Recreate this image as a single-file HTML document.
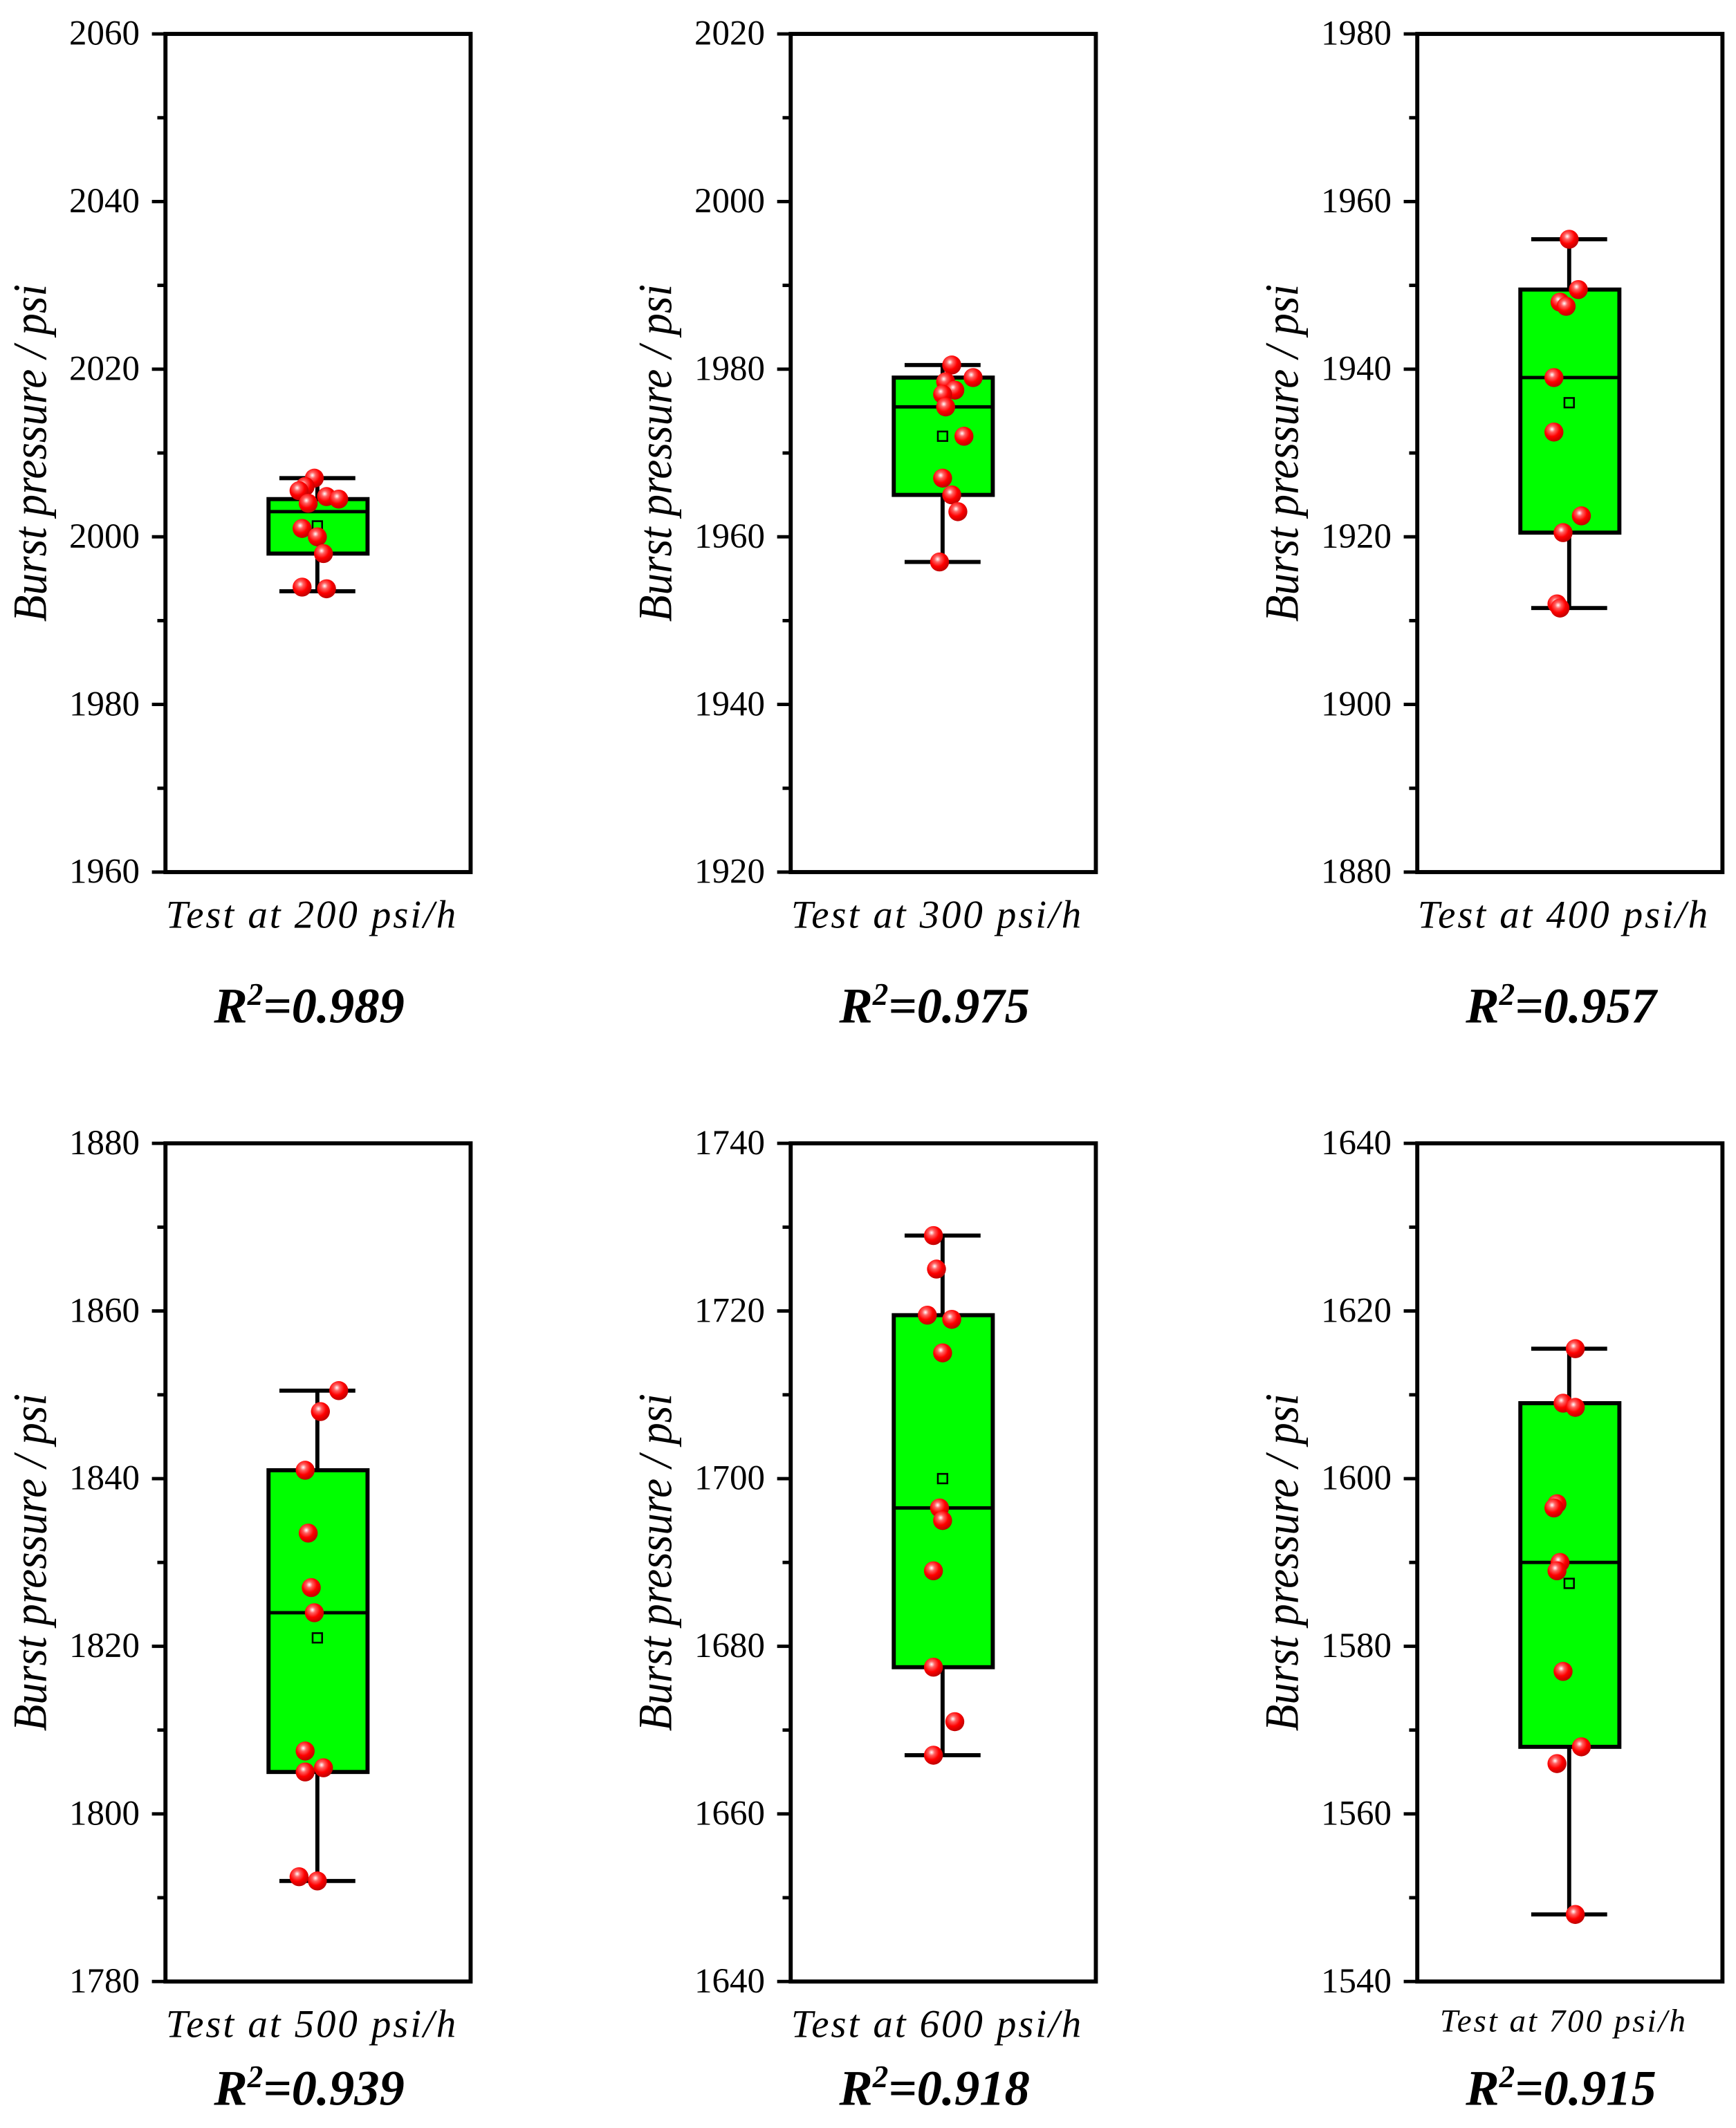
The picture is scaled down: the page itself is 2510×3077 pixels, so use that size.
<!DOCTYPE html>
<html><head><meta charset="utf-8"><style>
html,body{margin:0;padding:0;background:#fff;}
svg{display:block;}
text{font-family:"Liberation Serif",serif;fill:#000;}
</style></head><body>
<svg id="chart" width="2510" height="3077" viewBox="0 0 1280 1569" preserveAspectRatio="none" xmlns="http://www.w3.org/2000/svg">
<defs>
<radialGradient id="ball" cx="0.4" cy="0.35" r="0.65">
<stop offset="0" stop-color="#ffffff"/><stop offset="0.25" stop-color="#ff6060"/><stop offset="0.6" stop-color="#ff0000"/><stop offset="1" stop-color="#c00000"/>
</radialGradient>
</defs>
</svg>
<script>
const rates = ["200","300","400","500","600","700"];
const r2Values = ["0.989","0.975","0.957","0.939","0.918","0.915"];
const yMins = [1960,1920,1880,1780,1640,1540];
const yMaxs = [2060,2020,1980,1880,1740,1640];
const whiskerLow = [1993.5,1957,1911.5,1792,1667,1548];
const whiskerHigh = [2007,1980.5,1955.5,1850.5,1729,1615.5];
const q1 = [1998,1965,1920.5,1805,1677.5,1568];
const q3 = [2004.5,1979,1949.5,1841,1719.5,1609];
const medians = [2003,1975.5,1939,1824,1696.5,1590];
const means = [2001.3,1972,1936,1821,1700,1587.5];
const points = [
 [2007,2006,2005.5,2004.8,2004.5,2004,2001,2000,1998,1994,1993.8],
 [1980.5,1979,1978.5,1977.5,1977,1975.5,1972,1967,1965,1963,1957],
 [1955.5,1949.5,1948,1947.5,1939,1932.5,1922.5,1920.5,1912,1911.5],
 [1850.5,1848,1841,1833.5,1827,1824,1807.5,1805.5,1805,1792.5,1792],
 [1729,1725,1719.5,1719,1715,1696.5,1695,1689,1677.5,1671,1667],
 [1615.5,1609,1608.5,1597,1596.5,1590,1589,1577,1568,1566,1548]
];
const jitter = [
 [-0.01,-0.04,-0.06,0.03,0.07,-0.03,-0.05,0,0.02,-0.05,0.03],
 [0.03,0.1,0.01,0.04,0.0,0.01,0.07,0.0,0.03,0.05,-0.01],
 [0.0,0.03,-0.03,-0.01,-0.05,-0.05,0.04,-0.02,-0.04,-0.03],
 [0.07,0.01,-0.04,-0.03,-0.02,-0.01,-0.04,0.02,-0.04,-0.06,0],
 [-0.03,-0.02,-0.05,0.03,0.0,-0.01,0.0,-0.03,-0.03,0.04,-0.03],
 [0.02,-0.02,0.02,-0.04,-0.05,-0.03,-0.04,-0.02,0.04,-0.04,0.02]
];
const yTicks = [0,20,40,60,80,100];

const svg = document.getElementById('chart');
const NS = 'http://www.w3.org/2000/svg';
function mk(tag, attrs, parent){
  const e = document.createElementNS(NS, tag);
  for (const k in attrs) e.setAttribute(k, attrs[k]);
  (parent||svg).appendChild(e);
  return e;
}
const colX = [122,583,1045];
const rowY = [25,843];
const W = 225, H = 618;

for (let p=0;p<6;p++){
  const px = colX[p%3], py = rowY[Math.floor(p/3)];
  const g = mk('g',{});
  
  
  const y = v => py + H - (v - yMins[p])/(yMaxs[p]-yMins[p])*H;
  const cx = px + 112;
  const xj = f => cx + f*225;
  for (let k=0;k<=10;k++){
    const v = yMins[p] + k*(yMaxs[p]-yMins[p])/10;
    const major = k%2===0;
    const t = mk('line',{x1:px-(major?10:6),x2:px,y1:y(v),y2:y(v),stroke:'#000','stroke-width':2.5},g);
    
    
  }
  yTicks.forEach(d=>{
    const v = yMins[p]+d;
    const t = mk('text',{x:px-19,y:y(v)+8,'text-anchor':'end','font-size':26},g);
    t.textContent = v;
    
    
  });
  const wl = mk('line',{x1:cx,x2:cx,y1:y(whiskerLow[p]),y2:y(whiskerHigh[p]),stroke:'#000','stroke-width':3},g);
  
  
  [whiskerLow[p],whiskerHigh[p]].forEach(v=>{
    const c = mk('line',{x1:cx-28,x2:cx+28,y1:y(v),y2:y(v),stroke:'#000','stroke-width':3},g);
    
    
  });
  const box = mk('rect',{x:cx-36,y:y(q3[p]),width:73,height:y(q1[p])-y(q3[p]),fill:'#00ff00',stroke:'#000','stroke-width':3},g);
  
  
  const med = mk('line',{x1:cx-36,x2:cx+37,y1:y(medians[p]),y2:y(medians[p]),stroke:'#000','stroke-width':2.5},g);
  
  
  const mn = mk('rect',{x:cx-3.5,y:y(means[p])-3.5,width:7,height:7,fill:'none',stroke:'#000','stroke-width':1.3},g);
  
  
  points[p].forEach((v,i)=>{
    const c = mk('circle',{cx:xj(jitter[p][i]),cy:y(v),r:7,fill:'url(#ball)'},g);
    
    
  });
  const fr = mk('rect',{x:px,y:py,width:W,height:H,fill:'none',stroke:'#000','stroke-width':3},g);
  
  
  const yt = mk('text',{x:0,y:0,'text-anchor':'middle','font-size':35,'font-style':'italic',transform:`translate(${px-88},${py+309}) rotate(-90) scale(0.92,1)`},g);
  yt.textContent = 'Burst pressure / psi';
  
  
  const small = p===5;
  const xl = mk('text',{x:px+108,y:py+H+(small?37:41),'text-anchor':'middle','font-size':small?24:29,'font-style':'italic','letter-spacing':small?1.5:1.5},g);
  xl.textContent = 'Test at '+rates[p]+' psi/h';
  
  
  const ry = p<3 ? py+H+111 : py+H+91;
  const rt = mk('text',{x:px+106,y:ry,'text-anchor':'middle','font-size':37,'font-style':'italic','font-weight':'bold'},g);
  
  
  const t1 = mk('tspan',{},rt); t1.textContent='R';
  const t2 = mk('tspan',{dy:-13,'font-size':23},rt); t2.textContent='2';
  const t3 = mk('tspan',{dy:13},rt); t3.textContent='='+r2Values[p];
}
</script>
</body></html>
